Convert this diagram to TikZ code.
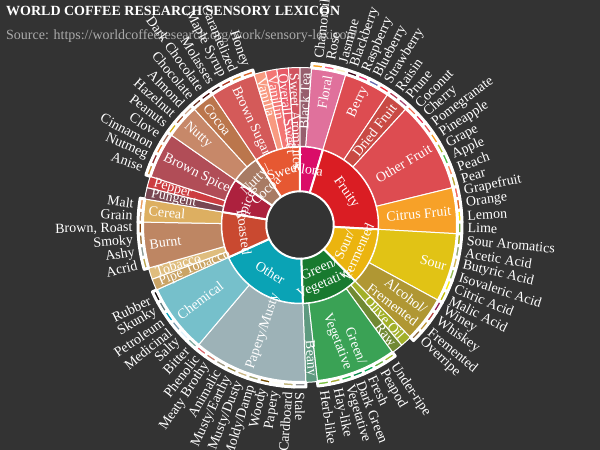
\documentclass[tikz,border=0pt]{standalone}
\usepackage{fontspec}
\setmainfont{Liberation Serif}
\definecolor{bg}{HTML}{333333}
\definecolor{subgray}{HTML}{AAAAAA}
\def\U{4.2352941}
\newcounter{lblc}
\tikzset{
  lbl/.style={text=white, font=\fontsize{14}{15}\selectfont, inner sep=0.5pt},
  ttl/.style={text=white, font=\bfseries\fontsize{14}{16}\selectfont, inner sep=0pt, anchor=base west},
  subttl/.style={text=subgray, font=\fontsize{14}{16}\selectfont, inner sep=0pt, anchor=base west}
}
% annular sector from unit #1 to unit #2, radii #3..#4, colour #5, border #6
\newcommand\sect[6]{%
  \definecolor{tmpc}{HTML}{#5}%
  \pgfmathsetmacro\angA{90-(#1)*\U}%
  \pgfmathsetmacro\angB{90-(#2)*\U}%
  \filldraw[fill=tmpc, draw=white, line width=#6, line join=round]
    (\angA:#3) -- (\angA:#4) arc[start angle=\angA, end angle=\angB, radius=#4]
    -- (\angB:#3) arc[start angle=\angB, end angle=\angA, radius=#3] -- cycle;}
% tangential label of the inner ring
\newcommand\lone[3]{%
  \stepcounter{lblc}%
  \pgfmathsetmacro\mm{90-((#1)+(#2))/2*\U}%
  \pgfmathsetmacro\rot{sin(\mm)>0 ? \mm-90 : \mm+90}%
  \node[lbl, rotate=\rot, align=center] (a\thelblc) at (\mm:56.25) {#3};}
% radial label of the middle ring, aligned to its outer end
\newcommand\ltwo[3]{%
  \stepcounter{lblc}%
  \pgfmathsetmacro\mm{90-((#1)+(#2))/2*\U}%
  \pgfmathsetmacro\cc{cos(\mm)}%
  \ifdim\cc pt<-0.0001pt
    \pgfmathsetmacro\rot{\mm+180}%
    \node[lbl, rotate=\rot, anchor=west, align=left] (b\thelblc) at (\mm:152.5) {#3};%
  \else
    \node[lbl, rotate=\mm, anchor=east, align=right] (b\thelblc) at (\mm:152.5) {#3};%
  \fi}
% leaf: thin outer slice plus label outside
\newcommand\leaf[3]{%
  \stepcounter{lblc}%
  \sect{#1}{(#1)+1}{157.5}{162}{#2}{3pt}%
  \pgfmathsetmacro\mm{90-((#1)+0.5)*\U}%
  \pgfmathsetmacro\cc{cos(\mm)}%
  \ifdim\cc pt<-0.0001pt
    \pgfmathsetmacro\rot{\mm+180}%
    \node[lbl, rotate=\rot, anchor=east] (c\thelblc) at (\mm:167) {#3};%
  \else
    \node[lbl, rotate=\mm, anchor=west] (c\thelblc) at (\mm:167) {#3};%
  \fi}
\begin{document}
\begin{tikzpicture}[x=1pt, y=1pt]
\fill[bg] (-300,-225) rectangle (300,225);
\useasboundingbox (-300,-225) rectangle (300,225);
\node[ttl] (title) at (-294,209) {WORLD COFFEE RESEARCH SENSORY LEXICON};
\node[subttl] (subtitle) at (-294,185) {Source: https://worldcoffeeresearch.org/work/sensory-lexicon/};
% inner ring
\sect{0}{4}{33.75}{78.75}{da0d68}{2pt}
\sect{4}{22}{33.75}{78.75}{da1d23}{2pt}
\sect{22}{32}{33.75}{78.75}{ebb40f}{2pt}
\sect{32}{42}{33.75}{78.75}{187a2f}{2pt}
\sect{42}{58}{33.75}{78.75}{0aa3b5}{2pt}
\sect{58}{66}{33.75}{78.75}{c94930}{2pt}
\sect{66}{72}{33.75}{78.75}{ad213e}{2pt}
\sect{72}{77}{33.75}{78.75}{a87b64}{2pt}
\sect{77}{85}{33.75}{78.75}{e65832}{2pt}
% middle ring
\sect{0}{1}{78.75}{157.5}{975e6d}{1pt}
\sect{1}{4}{78.75}{157.5}{e0719c}{1pt}
\sect{4}{8}{78.75}{157.5}{dd4c51}{1pt}
\sect{8}{10}{78.75}{157.5}{c94a44}{1pt}
\sect{10}{18}{78.75}{157.5}{dd4c51}{1pt}
\sect{18}{22}{78.75}{157.5}{f7a128}{1pt}
\sect{22}{28}{78.75}{157.5}{e1c315}{1pt}
\sect{28}{32}{78.75}{157.5}{b09733}{1pt}
\sect{32}{33}{78.75}{157.5}{a2b029}{1pt}
\sect{33}{34}{78.75}{157.5}{718933}{1pt}
\sect{34}{41}{78.75}{157.5}{3aa255}{1pt}
\sect{41}{42}{78.75}{157.5}{5e9a80}{1pt}
\sect{42}{52}{78.75}{157.5}{9db2b7}{1pt}
\sect{52}{58}{78.75}{157.5}{76c0cb}{1pt}
\sect{58}{59}{78.75}{157.5}{caa465}{1pt}
\sect{59}{60}{78.75}{157.5}{dfbd7e}{1pt}
\sect{60}{64}{78.75}{157.5}{be8663}{1pt}
\sect{64}{66}{78.75}{157.5}{ddaf61}{1pt}
\sect{66}{67}{78.75}{157.5}{794752}{1pt}
\sect{67}{68}{78.75}{157.5}{cc3d41}{1pt}
\sect{68}{72}{78.75}{157.5}{b14d57}{1pt}
\sect{72}{75}{78.75}{157.5}{c78869}{1pt}
\sect{75}{77}{78.75}{157.5}{bb764c}{1pt}
\sect{77}{81}{78.75}{157.5}{d45a59}{1pt}
\sect{81}{82}{78.75}{157.5}{f89a80}{1pt}
\sect{82}{83}{78.75}{157.5}{f37674}{1pt}
\sect{83}{84}{78.75}{157.5}{e75b68}{1pt}
\sect{84}{85}{78.75}{157.5}{d0545f}{1pt}
% outer ring and leaf labels
\leaf{1}{f99e1c}{Chamomile}
\leaf{2}{ef5a78}{Rose}
\leaf{3}{f7f1bd}{Jasmine}
\leaf{4}{3e0317}{Blackberry}
\leaf{5}{e62969}{Raspberry}
\leaf{6}{6569b0}{Blueberry}
\leaf{7}{ef2d36}{Strawberry}
\leaf{8}{b53b54}{Raisin}
\leaf{9}{a5446f}{Prune}
\leaf{10}{f2684b}{Coconut}
\leaf{11}{e73451}{Cherry}
\leaf{12}{e65656}{Pomegranate}
\leaf{13}{f89a1c}{Pineapple}
\leaf{14}{aeb92c}{Grape}
\leaf{15}{4eb849}{Apple}
\leaf{16}{f68a5c}{Peach}
\leaf{17}{baa635}{Pear}
\leaf{18}{f26355}{Grapefruit}
\leaf{19}{e2631e}{Orange}
\leaf{20}{fde404}{Lemon}
\leaf{21}{7eb138}{Lime}
\leaf{22}{9ea718}{Sour Aromatics}
\leaf{23}{94a76f}{Acetic Acid}
\leaf{24}{d0b24f}{Butyric Acid}
\leaf{25}{8eb646}{Isovaleric Acid}
\leaf{26}{faef07}{Citric Acid}
\leaf{27}{c1ba07}{Malic Acid}
\leaf{28}{8f1c53}{Winey}
\leaf{29}{b34039}{Whiskey}
\leaf{30}{ba9232}{Fremented}
\leaf{31}{8b6439}{Overripe}
\leaf{34}{a2bb2b}{Under-ripe}
\leaf{35}{62aa3c}{Peapod}
\leaf{36}{03a653}{Fresh}
\leaf{37}{038549}{Dark Green}
\leaf{38}{28b44b}{Vegetative}
\leaf{39}{a3a830}{Hay-like}
\leaf{40}{7ac141}{Herb-like}
\leaf{42}{8b8c90}{Stale}
\leaf{43}{beb276}{Cardboard}
\leaf{44}{fefef4}{Papery}
\leaf{45}{744e03}{Woody}
\leaf{46}{a3a36f}{Moldy/Damp}
\leaf{47}{c9b583}{Musty/Dusty}
\leaf{48}{978847}{Musty/Earthy}
\leaf{49}{9d977f}{Animalic}
\leaf{50}{cc7b6a}{Meaty Brothy}
\leaf{51}{db646a}{Phenolic}
\leaf{52}{80a89d}{Bitter}
\leaf{53}{def2fd}{Salty}
\leaf{54}{7a9bae}{Medicinal}
\leaf{55}{039fb8}{Petroleum}
\leaf{56}{5e777b}{Skunky}
\leaf{57}{120c0c}{Rubber}
\leaf{60}{b9a449}{Acrid}
\leaf{61}{899893}{Ashy}
\leaf{62}{a1743b}{Smoky}
\leaf{63}{894810}{Brown, Roast}
\leaf{64}{b7906f}{Grain}
\leaf{65}{eb9d5f}{Malt}
\leaf{68}{c78936}{Anise}
\leaf{69}{8c292c}{Nutmeg}
\leaf{70}{e5762e}{Cinnamon}
\leaf{71}{a16c5a}{Clove}
\leaf{72}{d4ad12}{Peanuts}
\leaf{73}{9d5433}{Hazelnut}
\leaf{74}{c89f83}{Almond}
\leaf{75}{692a19}{Chocolate}
\leaf{76}{470604}{Dark Chocolate}
\leaf{77}{310d0f}{Molasses}
\leaf{78}{ae341f}{Maple Syrup}
\leaf{79}{d78823}{Caramelized}
\leaf{80}{da5c1f}{Honey}
% middle ring labels
\ltwo{0}{1}{Black Tea}
\ltwo{1}{4}{Floral}
\ltwo{4}{8}{Berry}
\ltwo{8}{10}{Dried Fruit}
\ltwo{10}{18}{Other Fruit}
\ltwo{18}{22}{Citrus Fruit}
\ltwo{22}{28}{Sour}
\ltwo{28}{32}{Alcohol/\\Fremented}
\ltwo{32}{33}{Olive Oil}
\ltwo{33}{34}{Raw}
\ltwo{34}{41}{Green/\\Vegetative}
\ltwo{41}{42}{Beany}
\ltwo{42}{52}{Papery/Musty}
\ltwo{52}{58}{Chemical}
\ltwo{58}{59}{Pipe Tobacco}
\ltwo{59}{60}{Tobacco}
\ltwo{60}{64}{Burnt}
\ltwo{64}{66}{Cereal}
\ltwo{66}{67}{Pungent}
\ltwo{67}{68}{Pepper}
\ltwo{68}{72}{Brown Spice}
\ltwo{72}{75}{Nutty}
\ltwo{75}{77}{Cocoa}
\ltwo{77}{81}{Brown Sugar}
\ltwo{81}{82}{Vanilla}
\ltwo{82}{83}{Vanillin}
\ltwo{83}{84}{Overall Sweet}
\ltwo{84}{85}{Sweet Aromatics}
% inner ring labels
\lone{0}{4}{Flora}
\lone{4}{22}{Fruity}
\lone{22}{32}{Sour/\\Fermented}
\lone{32}{42}{Green/\\Vegetative}
\lone{42}{58}{Other}
\lone{58}{66}{Roasted}
\lone{66}{72}{Spices}
\lone{72}{77}{Nutty/\\Cocoa}
\lone{77}{85}{Sweet}
\end{tikzpicture}
\end{document}
